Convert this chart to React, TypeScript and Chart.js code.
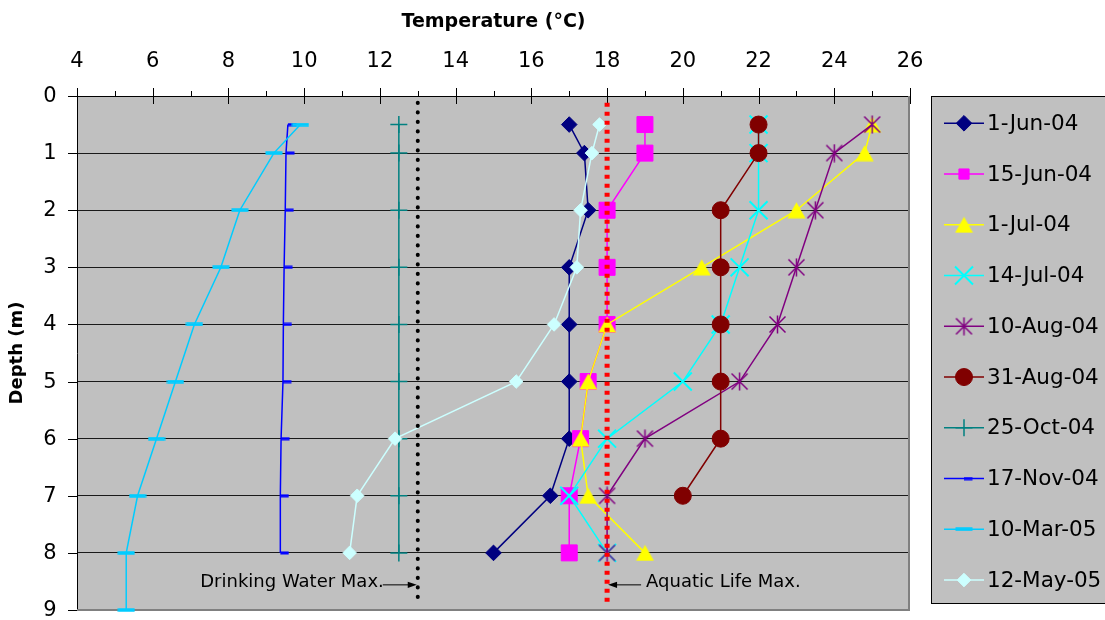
import React, { useEffect, useRef } from 'react';
import { Chart, registerables } from 'chart.js';

Chart.register(...registerables);

const FONT = "'DejaVu Sans', 'Liberation Sans', sans-serif";

// ---------------- data ----------------
const DEPTHS_TO_8 = [0.5, 1, 2, 3, 4, 5, 6, 7, 8];
const DEPTHS_TO_7 = [0.5, 1, 2, 3, 4, 5, 6, 7];
const DEPTHS_TO_9 = [0.5, 1, 2, 3, 4, 5, 6, 7, 8, 9];

const SERIES_NAMES = [
  '1-Jun-04', '15-Jun-04', '1-Jul-04', '14-Jul-04', '10-Aug-04',
  '31-Aug-04', '25-Oct-04', '17-Nov-04', '10-Mar-05', '12-May-05',
];

const TEMP_1_JUN_04 = [17.0, 17.4, 17.5, 17.0, 17.0, 17.0, 17.0, 16.5, 15.0];
const TEMP_15_JUN_04 = [19.0, 19.0, 18.0, 18.0, 18.0, 17.5, 17.3, 17.0, 17.0];
const TEMP_1_JUL_04 = [25.0, 24.8, 23.0, 20.5, 18.0, 17.5, 17.3, 17.5, 19.0];
const TEMP_14_JUL_04 = [22.0, 22.0, 22.0, 21.5, 21.0, 20.0, 18.0, 17.0, 18.0];
const TEMP_10_AUG_04 = [25.0, 24.0, 23.5, 23.0, 22.5, 21.5, 19.0, 18.0, 18.0];
const TEMP_31_AUG_04 = [22.0, 22.0, 21.0, 21.0, 21.0, 21.0, 21.0, 20.0];
const TEMP_25_OCT_04 = [12.5, 12.5, 12.5, 12.5, 12.5, 12.5, 12.5, 12.5, 12.5];
const TEMP_17_NOV_04 = [9.57, 9.52, 9.5, 9.47, 9.45, 9.44, 9.39, 9.37, 9.37];
const TEMP_10_MAR_05 = [9.9, 9.2, 8.3, 7.8, 7.1, 6.6, 6.1, 5.6, 5.3, 5.3];
const TEMP_12_MAY_05 = [17.8, 17.6, 17.3, 17.2, 16.6, 15.6, 12.4, 11.4, 11.2];

const SERIES_DEPTHS = [
  DEPTHS_TO_8, DEPTHS_TO_8, DEPTHS_TO_8, DEPTHS_TO_8, DEPTHS_TO_8,
  DEPTHS_TO_7, DEPTHS_TO_8, DEPTHS_TO_8, DEPTHS_TO_9, DEPTHS_TO_8,
];
const SERIES_TEMPS = [
  TEMP_1_JUN_04, TEMP_15_JUN_04, TEMP_1_JUL_04, TEMP_14_JUL_04, TEMP_10_AUG_04,
  TEMP_31_AUG_04, TEMP_25_OCT_04, TEMP_17_NOV_04, TEMP_10_MAR_05, TEMP_12_MAY_05,
];

const DRINKING_WATER_MAX = 13;
const AQUATIC_LIFE_MAX = 18;
const LIMIT_DEPTHS = [0.12, 8.88];
const LIMIT_LABELS = ['Drinking Water Max.', 'Aquatic Life Max.'];

const X_MIN = 4;
const X_MAX = 26;
const X_STEP = 2;
const Y_MIN = 0;
const Y_MAX = 9;
const Y_STEP = 1;
const X_TITLE = 'Temperature (\u00B0C)';
const Y_TITLE = 'Depth (m)';

// ---------------- styles ----------------
const COLORS = [
  '#000080', '#FF00FF', '#FFFF00', '#00FFFF', '#800080',
  '#800000', '#008080', '#0000FF', '#00CCFF', '#CCFFFF',
];

function makeCanvas(w: number, h: number, draw: (g: CanvasRenderingContext2D) => void) {
  const c = document.createElement('canvas');
  c.width = w;
  c.height = h;
  const g = c.getContext('2d') as CanvasRenderingContext2D;
  draw(g);
  return c;
}

type Marker = { style: any; r: number; bw: number; legendR?: number };

function buildMarkers(): Marker[] {
  const triangle = makeCanvas(19, 17, (g) => {
    g.fillStyle = COLORS[2];
    g.beginPath();
    g.moveTo(9.5, 0.5);
    g.lineTo(18.5, 16.5);
    g.lineTo(0.5, 16.5);
    g.closePath();
    g.fill();
  });
  const asterisk = makeCanvas(19, 19, (g) => {
    g.strokeStyle = COLORS[4];
    g.lineWidth = 1.5;
    g.beginPath();
    g.moveTo(1.5, 1.5);
    g.lineTo(17.5, 17.5);
    g.moveTo(17.5, 1.5);
    g.lineTo(1.5, 17.5);
    g.moveTo(9.5, 0.5);
    g.lineTo(9.5, 18.5);
    g.stroke();
  });
  const shortDash = makeCanvas(18, 4, (g) => {
    g.fillStyle = COLORS[7];
    g.fillRect(9, 0.5, 8.5, 3);
  });
  const longDash = makeCanvas(18, 4, (g) => {
    g.fillStyle = COLORS[8];
    g.fillRect(0.5, 0.25, 17, 3.5);
  });
  return [
    { style: 'rectRot', r: 7.8, bw: 1 },
    { style: 'rect', r: 11.3, bw: 1, legendR: 7.2 },
    { style: triangle, r: 9, bw: 0 },
    { style: 'crossRot', r: 12.7, bw: 2 },
    { style: asterisk, r: 9, bw: 0 },
    { style: 'circle', r: 8.5, bw: 1 },
    { style: 'cross', r: 8.5, bw: 1.5 },
    { style: shortDash, r: 4, bw: 0 },
    { style: longDash, r: 8, bw: 0 },
    { style: 'rectRot', r: 6.8, bw: 1 },
  ];
}

function drawMarker(ctx: CanvasRenderingContext2D, m: Marker, color: string, x: number, y: number) {
  const style = m.style;
  const r = m.legendR ?? m.r;
  if (typeof style !== 'string') {
    ctx.drawImage(style, x - style.width / 2, y - style.height / 2);
    return;
  }
  ctx.save();
  ctx.fillStyle = color;
  ctx.strokeStyle = color;
  ctx.lineWidth = m.bw;
  ctx.beginPath();
  let fill = true;
  if (style === 'rectRot') {
    ctx.moveTo(x - r, y);
    ctx.lineTo(x, y - r);
    ctx.lineTo(x + r, y);
    ctx.lineTo(x, y + r);
    ctx.closePath();
  } else if (style === 'rect') {
    const s = Math.SQRT1_2 * r;
    ctx.rect(x - s, y - s, 2 * s, 2 * s);
  } else if (style === 'circle') {
    ctx.arc(x, y, r, 0, Math.PI * 2);
    ctx.closePath();
  } else if (style === 'cross') {
    fill = false;
    ctx.moveTo(x, y - r);
    ctx.lineTo(x, y + r);
    ctx.moveTo(x - r, y);
    ctx.lineTo(x + r, y);
  } else if (style === 'crossRot') {
    fill = false;
    const o = r * Math.SQRT1_2;
    ctx.moveTo(x - o, y - o);
    ctx.lineTo(x + o, y + o);
    ctx.moveTo(x + o, y - o);
    ctx.lineTo(x - o, y + o);
  }
  if (fill) ctx.fill();
  if (m.bw > 0) ctx.stroke();
  ctx.restore();
}

function makeDecorPlugin(markers: Marker[]) {
  return {
    id: 'decor',
    beforeDraw(chart: any) {
      const { ctx, chartArea: a } = chart;
      ctx.save();
      ctx.fillStyle = '#FFFFFF';
      ctx.fillRect(0, 0, chart.width, chart.height);
      ctx.fillStyle = '#C0C0C0';
      ctx.fillRect(a.left, a.top, a.right - a.left, a.bottom - a.top);
      ctx.restore();
    },
    beforeDatasetsDraw(chart: any) {
      const { ctx, chartArea: a } = chart;
      ctx.save();
      ctx.strokeStyle = '#808080';
      ctx.lineWidth = 2;
      ctx.beginPath();
      ctx.moveTo(a.right - 1, a.top);
      ctx.lineTo(a.right - 1, a.bottom);
      ctx.moveTo(a.left, a.bottom);
      ctx.lineTo(a.right, a.bottom);
      ctx.stroke();
      // tick marks
      const xs = chart.scales.x;
      const ys = chart.scales.y;
      ctx.strokeStyle = '#000000';
      ctx.lineWidth = 1;
      ctx.beginPath();
      for (let v = X_MIN; v <= X_MAX; v += 1) {
        const px = Math.round(xs.getPixelForValue(v)) + 0.5;
        const major = (v - X_MIN) % X_STEP === 0;
        ctx.moveTo(px, a.top - (major ? 8 : 5));
        ctx.lineTo(px, a.top + (major ? 8 : 0));
      }
      for (let v = Y_MIN; v <= Y_MAX; v += Y_STEP) {
        const py = Math.round(ys.getPixelForValue(v)) + 0.5;
        ctx.moveTo(a.left - 9, py);
        ctx.lineTo(a.left, py);
      }
      ctx.stroke();
      // depth tick labels, placed from the y scale's own ticks
      ctx.fillStyle = '#000000';
      ctx.font = `21px ${FONT}`;
      ctx.textAlign = 'right';
      ctx.textBaseline = 'middle';
      for (const t of ys.ticks) {
        ctx.fillText(String(t.value), a.left - 20.5, ys.getPixelForValue(t.value) + 0.5);
      }
      ctx.restore();
    },
    afterDraw(chart: any) {
      const { ctx } = chart;
      const xs = chart.scales.x;
      const ys = chart.scales.y;
      ctx.save();
      // annotations
      ctx.font = `18px ${FONT}`;
      ctx.fillStyle = '#000000';
      ctx.strokeStyle = '#000000';
      ctx.lineWidth = 1;
      ctx.textBaseline = 'middle';
      const textY = ys.getPixelForValue(8.52);
      const arrowY = ys.getPixelForValue(8.56);
      // drinking water
      const tip1 = xs.getPixelForValue(DRINKING_WATER_MAX) - 1;
      ctx.textAlign = 'right';
      ctx.fillText(LIMIT_LABELS[0], tip1 - 33, textY);
      ctx.beginPath();
      ctx.moveTo(tip1 - 34, arrowY);
      ctx.lineTo(tip1 - 8, arrowY);
      ctx.stroke();
      ctx.beginPath();
      ctx.moveTo(tip1, arrowY);
      ctx.lineTo(tip1 - 9, arrowY - 3.2);
      ctx.lineTo(tip1 - 9, arrowY + 3.2);
      ctx.closePath();
      ctx.fill();
      // aquatic life
      const tip2 = xs.getPixelForValue(AQUATIC_LIFE_MAX) + 1;
      ctx.textAlign = 'left';
      ctx.fillText(LIMIT_LABELS[1], tip2 + 38, textY);
      ctx.beginPath();
      ctx.moveTo(tip2 + 8, arrowY);
      ctx.lineTo(tip2 + 33, arrowY);
      ctx.stroke();
      ctx.beginPath();
      ctx.moveTo(tip2, arrowY);
      ctx.lineTo(tip2 + 9, arrowY - 3.2);
      ctx.lineTo(tip2 + 9, arrowY + 3.2);
      ctx.closePath();
      ctx.fill();

      // legend
      ctx.fillStyle = '#C0C0C0';
      ctx.fillRect(931.5, 96.5, 180, 507);
      ctx.strokeStyle = '#000000';
      ctx.lineWidth = 1;
      ctx.strokeRect(931.5, 96.5, 180, 507);
      ctx.font = `21.5px ${FONT}`;
      ctx.textAlign = 'left';
      ctx.textBaseline = 'middle';
      for (let i = 0; i < SERIES_NAMES.length; i++) {
        const y = 123.3 + i * 50.75;
        ctx.strokeStyle = COLORS[i];
        ctx.lineWidth = 1.5;
        ctx.beginPath();
        ctx.moveTo(944, y);
        ctx.lineTo(984, y);
        ctx.stroke();
        drawMarker(ctx, markers[i], COLORS[i], 964, y);
        ctx.fillStyle = '#000000';
        ctx.fillText(SERIES_NAMES[i], 987, y + 1);
      }
      ctx.restore();
    },
  };
}

export default function App() {
  const ref = useRef<HTMLCanvasElement>(null);

  useEffect(() => {
    const canvas = ref.current;
    if (!canvas) return;
    const markers = buildMarkers();

    const limitData = (x: number) => LIMIT_DEPTHS.map((d) => ({ x, y: d }));

    const datasets: any[] = [
      {
        label: LIMIT_LABELS[1],
        data: limitData(AQUATIC_LIFE_MAX),
        showLine: true,
        borderColor: '#FF0000',
        borderWidth: 5,
        borderDash: [4, 5],
        pointRadius: 0,
        order: 0,
        clip: false,
      },
      {
        label: LIMIT_LABELS[0],
        data: limitData(DRINKING_WATER_MAX),
        showLine: true,
        borderColor: '#000000',
        borderWidth: 4,
        borderDash: [0.1, 9.4],
        borderCapStyle: 'round',
        pointRadius: 0,
        order: 0,
        clip: false,
      },
    ];

    SERIES_NAMES.forEach((name, i) => {
      const depths = SERIES_DEPTHS[i];
      const temps = SERIES_TEMPS[i];
      const m = markers[i];
      datasets.push({
        label: name,
        data: depths.map((d, k) => ({ x: temps[k], y: d })),
        showLine: true,
        borderColor: COLORS[i],
        backgroundColor: COLORS[i],
        borderWidth: 1.5,
        tension: 0,
        pointStyle: m.style,
        pointRadius: m.r,
        pointBorderWidth: m.bw,
        pointBackgroundColor: COLORS[i],
        pointBorderColor: COLORS[i],
        order: 10 - i,
        clip: false,
      });
    });

    const chart = new Chart(canvas, {
      type: 'scatter',
      data: { datasets },
      options: {
        responsive: false,
        maintainAspectRatio: false,
        animation: false,
        devicePixelRatio: 1,
        events: [],
        layout: { autoPadding: false, padding: { top: 0, left: 0, right: 195, bottom: 10 } },
        plugins: {
          legend: { display: false },
          tooltip: { enabled: false },
          title: { display: false },
        },
        scales: {
          x: {
            type: 'linear',
            position: 'top',
            min: X_MIN,
            max: X_MAX,
            ticks: {
              stepSize: X_STEP,
              autoSkip: false,
              maxRotation: 0,
              padding: 22,
              color: '#000000',
              font: { family: FONT, size: 21 },
            },
            grid: { drawOnChartArea: false, drawTicks: false },
            border: { display: true, color: '#000000', width: 1 },
            title: {
              display: true,
              text: X_TITLE,
              color: '#000000',
              font: { family: FONT, size: 19, weight: 'bold' },
              padding: { top: 11, bottom: 0 },
            },
            afterFit: (s: any) => {
              s.height = 96;
              s.paddingLeft = 0;
              s.paddingRight = 0;
            },
          },
          y: {
            type: 'linear',
            position: 'left',
            reverse: true,
            min: Y_MIN,
            max: Y_MAX,
            ticks: {
              stepSize: Y_STEP,
              display: false,
            },
            grid: {
              drawTicks: false,
              lineWidth: 1,
              color: (c: any) => (c.tick && c.tick.value === Y_MAX ? '#808080' : '#1A1A1A'),
            },
            border: { display: true, color: '#000000', width: 1 },
            title: {
              display: true,
              text: Y_TITLE,
              color: '#000000',
              font: { family: FONT, size: 18, weight: 'bold' },
              padding: { top: 7, bottom: 0 },
            },
            afterFit: (s: any) => {
              s.width = 77;
              s.paddingTop = 0;
              s.paddingBottom = 0;
            },
          },
        },
      } as any,
      plugins: [makeDecorPlugin(markers)],
    });

    return () => chart.destroy();
  }, []);

  return (
    <div style={{ position: 'absolute', left: 0, top: 0, width: 1105, height: 620, background: '#FFFFFF', overflow: 'hidden' }}>
      <canvas ref={ref} width={1105} height={620} style={{ display: 'block', width: 1105, height: 620 }} />
    </div>
  );
}
